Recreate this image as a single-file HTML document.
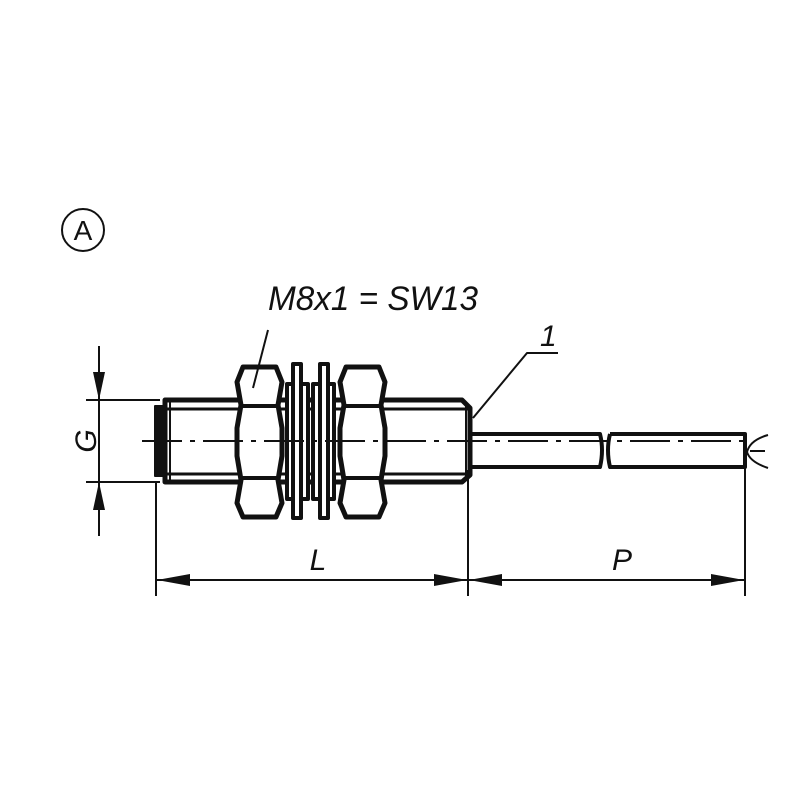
<!DOCTYPE html>
<html><head><style>body{margin:0;background:#fff}svg{display:block}</style></head><body>
<svg width="800" height="800" viewBox="0 0 800 800" xmlns="http://www.w3.org/2000/svg" font-family="Liberation Sans, sans-serif">
<rect width="800" height="800" fill="#fff"/>
<g fill="none" stroke="#111" stroke-linejoin="round">
<circle cx="83" cy="230" r="21" stroke-width="2"/>
<path d="M165 400 L462 400 L470 408 L470 475 L462 482 L165 482 Z" stroke-width="5"/>
<line x1="165" y1="409" x2="468" y2="409" stroke-width="3"/>
<line x1="165" y1="474" x2="468" y2="474" stroke-width="3"/>
<line x1="170" y1="402" x2="170" y2="480" stroke-width="2"/>
<line x1="466" y1="402" x2="466" y2="480" stroke-width="2"/>
<rect x="155" y="406" width="9" height="70" fill="#111" stroke-width="2"/>
<path d="M243 367 L276 367 L282 382 L278 405 L282 428 L282 456 L278 480 L282 503 L276 517 L243 517 L237 503 L241 480 L237 456 L237 428 L241 405 L237 382 Z" fill="#fff" stroke-width="5"/>
<line x1="240" y1="406" x2="279" y2="406" stroke-width="4"/>
<line x1="240" y1="478" x2="279" y2="478" stroke-width="4"/>
<path d="M346 367 L379 367 L385 382 L381 405 L385 428 L385 456 L381 480 L385 503 L379 517 L346 517 L340 503 L344 480 L340 456 L340 428 L344 405 L340 382 Z" fill="#fff" stroke-width="5"/>
<line x1="343" y1="406" x2="382" y2="406" stroke-width="4"/>
<line x1="343" y1="478" x2="382" y2="478" stroke-width="4"/>
<rect x="287" y="384" width="21" height="115" fill="#fff" stroke-width="4"/>
<rect x="293" y="364" width="8" height="154" fill="#fff" stroke-width="4"/>
<rect x="313" y="384" width="21" height="115" fill="#fff" stroke-width="4"/>
<rect x="320" y="364" width="8" height="154" fill="#fff" stroke-width="4"/>
<path d="M470 434 L600 434 Q604 450 600 467 L470 467" stroke-width="4"/>
<path d="M610 434 L745 434 L745 467 L610 467 Q606 450 610 434" stroke-width="4"/>
<path d="M768 435 Q750 440 747 452 Q750 462 768 468" stroke-width="2"/>
<line x1="750" y1="451" x2="765" y2="451" stroke-width="2"/>
<line x1="142" y1="441" x2="745" y2="441" stroke-width="2" stroke-dasharray="40,8,5,8"/>
<line x1="99" y1="346" x2="99" y2="536" stroke-width="2"/>
<line x1="86" y1="400" x2="160" y2="400" stroke-width="2"/>
<line x1="86" y1="482" x2="160" y2="482" stroke-width="2"/>
<line x1="156" y1="482" x2="156" y2="596" stroke-width="2"/>
<line x1="468" y1="470" x2="468" y2="596" stroke-width="2"/>
<line x1="745" y1="467" x2="745" y2="596" stroke-width="2"/>
<line x1="156" y1="580" x2="745" y2="580" stroke-width="2"/>
<line x1="253" y1="388" x2="268" y2="330" stroke-width="2"/>
<polyline points="473,418 527,353 558,353" stroke-width="2"/>
</g>
<g fill="#111">
<polygon points="93,372 105,372 99,400"/>
<polygon points="93,510 105,510 99,482"/>
<polygon points="157,580 190,574 190,586"/>
<polygon points="467,580 434,574 434,586"/>
<polygon points="469,580 502,574 502,586"/>
<polygon points="744,580 711,574 711,586"/>
</g>
<g fill="#111">
<text x="83" y="240" font-size="28" text-anchor="middle">A</text>
</g>
<g fill="#111" font-style="italic">
<text x="268" y="310" font-size="34" textLength="210" lengthAdjust="spacingAndGlyphs">M8x1 = SW13</text>
<text x="540" y="346" font-size="30">1</text>
<text x="318" y="570" font-size="30" text-anchor="middle">L</text>
<text x="622" y="570" font-size="30" text-anchor="middle">P</text>
<text transform="translate(96,441) rotate(-90)" font-size="30" text-anchor="middle">G</text>
</g>
</svg>
</body></html>
